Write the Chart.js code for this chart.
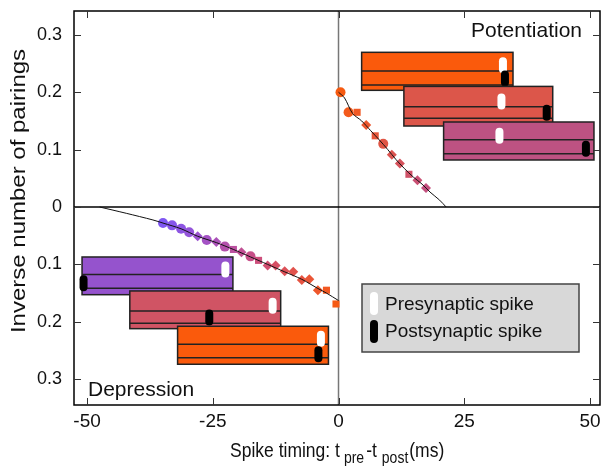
<!DOCTYPE html>
<html>
<head>
<meta charset="utf-8">
<script src="https://cdn.jsdelivr.net/npm/chart.js@4.4.1/dist/chart.umd.min.js"></script>
<style>
html, body { margin: 0; padding: 0; background: #fff; }
#wrap { width: 601px; height: 469px; }
</style>
</head>
<body>
<div id="wrap"><canvas id="stdp"></canvas></div>
<script>
// depression side (pre after post, negative timing)
var depX = [-34.9, -33.1, -31.3, -29.7, -28.0, -26.2, -24.3, -22.6, -20.9, -19.3, -17.5, -15.9, -14.1, -12.5, -10.7, -9.0, -7.3, -5.8, -4.1, -2.4, -0.5];
var depY = [-0.028, -0.032, -0.038, -0.044, -0.051, -0.0575, -0.061, -0.069, -0.074, -0.079, -0.086, -0.093, -0.102, -0.102, -0.112, -0.113, -0.127, -0.126, -0.145, -0.145, -0.169];
// potentiation side
var potX = [0.4, 2.0, 3.7, 5.5, 7.3, 8.9, 10.6, 12.2, 14.0, 15.7, 17.4];
var potY = [0.200, 0.165, 0.165, 0.143, 0.124, 0.110, 0.091, 0.076, 0.057, 0.0465, 0.033];

// fitted curves
var depCurveX = [-47.5, -42.2, -36.9, -34.9, -31.3, -28.0, -24.3, -20.9, -17.5, -14.1, -10.7, -7.3, -4.1, -2.4, 0];
var depCurveY = [0, -0.011, -0.0226, -0.028, -0.038, -0.051, -0.062, -0.074, -0.087, -0.100, -0.113, -0.126, -0.142, -0.150, -0.163];
var potCurveX = [0, 1.2, 2.8, 4.6, 6.4, 8.1, 9.8, 11.4, 13.1, 14.9, 16.6, 18.2, 20.1, 21.4];
var potCurveY = [0.200, 0.190, 0.163, 0.150, 0.133, 0.117, 0.100, 0.083, 0.067, 0.052, 0.040, 0.026, 0.012, 0];

// pairing protocol boxes (ms, inverse pairings)
var boxStart = [4.6, 13.0, 20.9, -51.0, -41.5, -32.0];
var boxEnd = [34.7, 42.6, 50.8, -21.0, -11.5, -2.0];
var boxTop = [0.2695, 0.2101, 0.1481, -0.0871, -0.1463, -0.2078];
var boxBottom = [0.2033, 0.1411, 0.0819, -0.1528, -0.2120, -0.2740];
var boxLine1 = [0.2369, 0.1747, 0.1172, -0.1178, -0.1812, -0.2392];
var boxLine2 = [0.2125, 0.1545, 0.0929, -0.1415, -0.2026, -0.2625];
var preSpikeX = [32.7, 32.4, 32.0, -22.5, -13.1, -3.5];
var preSpikeY = [0.247, 0.184, 0.124, -0.109, -0.172, -0.2297];
var postSpikeX = [33.1, 41.4, 49.2, -50.7, -25.7, -4.0];
var postSpikeY = [0.224, 0.164, 0.1016, -0.133, -0.1925, -0.2565];

var xTickVals = [-50, -25, 0, 25, 50];
var yTickVals = [0.3, 0.2, 0.1, 0, -0.1, -0.2, -0.3];
var yTickLabels = ['0.3', '0.2', '0.1', '0', '0.1', '0.2', '0.3'];

// styles
var FONT = "'Liberation Sans', Arial, sans-serif";
var boxColors = ['#fa5a0c', '#dc564a', '#bd5282', '#9553cd', '#d05464', '#fa5a0c'];
var depColors = ['#7f57f2', '#8656ea', '#8d55e2', '#9454da', '#9c53cf', '#a452c4', '#ab51b8', '#b350ab', '#ba509f', '#c04f94', '#c74f88',
  '#cd4f7c', '#d24f70', '#d65065', '#dc5158', '#e1524c', '#e55341', '#ea5536', '#ee572b', '#f25821', '#f55a14'];
var potColors = ['#f65a10', '#f35a1c', '#f05924', '#eb572e', '#e65538', '#e05544', '#db5450', '#d6535c', '#d05268', '#ca5174', '#c4507f'];
var depShapes = ['circle', 'circle', 'circle', 'circle', 'rectRot', 'circle', 'rectRot', 'circle', 'rect', 'rectRot', 'circle',
  'rect', 'rectRot', 'rectRot', 'rectRot', 'rectRot', 'rectRot', 'rectRot', 'rectRot', 'rect', 'rect'];
var potShapes = ['circle', 'circle', 'rect', 'rectRot', 'rect', 'circle', 'rectRot', 'rectRot', 'rect', 'rectRot', 'rectRot'];

function pts(xs, ys) {
  return xs.map(function (v, i) { return { x: v, y: ys[i] }; });
}

function pill(ctx, cx, cy, w, h, color) {
  var r = w / 2, x = cx - r, y = cy - h / 2;
  ctx.beginPath();
  ctx.moveTo(x, y + r);
  ctx.arc(cx, y + r, r, Math.PI, 0);
  ctx.lineTo(x + w, y + h - r);
  ctx.arc(cx, y + h - r, r, 0, Math.PI);
  ctx.closePath();
  ctx.fillStyle = color;
  ctx.fill();
}

function seg(ctx, x1, y1, x2, y2) {
  ctx.beginPath();
  ctx.moveTo(x1, y1);
  ctx.lineTo(x2, y2);
  ctx.stroke();
}

var decor = {
  id: 'decor',
  beforeDatasetsDraw: function (chart) {
    var ctx = chart.ctx, a = chart.chartArea, x = chart.scales.x, y = chart.scales.y;
    ctx.save();
    ctx.lineWidth = 1.5;
    ctx.strokeStyle = '#777';
    var x0 = x.getPixelForValue(0);
    seg(ctx, x0, a.top, x0, a.bottom);
    ctx.strokeStyle = '#000';
    var y0 = y.getPixelForValue(0);
    seg(ctx, a.left, y0, a.right, y0);
    ctx.restore();
  },
  afterDatasetsDraw: function (chart) {
    var ctx = chart.ctx, a = chart.chartArea, x = chart.scales.x, y = chart.scales.y;
    ctx.save();
    // boxes with spikes
    for (var i = 0; i < boxStart.length; i++) {
      var l = x.getPixelForValue(boxStart[i]), r = x.getPixelForValue(boxEnd[i]);
      var t = y.getPixelForValue(boxTop[i]), b = y.getPixelForValue(boxBottom[i]);
      ctx.fillStyle = boxColors[i];
      ctx.fillRect(l, t, r - l, b - t);
      ctx.strokeStyle = '#222';
      ctx.lineWidth = 1.5;
      ctx.strokeRect(l, t, r - l, b - t);
      seg(ctx, l, y.getPixelForValue(boxLine1[i]), r, y.getPixelForValue(boxLine1[i]));
      seg(ctx, l, y.getPixelForValue(boxLine2[i]), r, y.getPixelForValue(boxLine2[i]));
      pill(ctx, x.getPixelForValue(preSpikeX[i]), y.getPixelForValue(preSpikeY[i]), 8, 16, '#fff');
      pill(ctx, x.getPixelForValue(postSpikeX[i]), y.getPixelForValue(postSpikeY[i]), 8, 16, '#000');
    }

    // frame + inward ticks
    ctx.strokeStyle = '#000';
    ctx.lineWidth = 1.5;
    ctx.strokeRect(a.left, a.top, a.right - a.left, a.bottom - a.top);
    ctx.strokeStyle = '#333';
    ctx.lineWidth = 1;
    xTickVals.forEach(function (v) {
      var px = Math.round(x.getPixelForValue(v)) + 0.5;
      seg(ctx, px, a.bottom, px, a.bottom - 7);
      seg(ctx, px, a.top, px, a.top + 7);
    });
    yTickVals.forEach(function (v) {
      var py = Math.round(y.getPixelForValue(v)) + 0.5;
      seg(ctx, a.left, py, a.left + 7, py);
      seg(ctx, a.right, py, a.right - 7, py);
    });

    // legend
    ctx.fillStyle = '#d8d8d8';
    ctx.fillRect(362, 284, 217, 68);
    ctx.strokeStyle = '#444';
    ctx.lineWidth = 1.5;
    ctx.strokeRect(362, 284, 217, 68);
    pill(ctx, 374, 303.5, 8, 23, '#fff');
    pill(ctx, 374, 331.5, 8, 23, '#000');
    ctx.fillStyle = '#111';
    ctx.font = '19px ' + FONT;
    ctx.textBaseline = 'middle';
    ctx.textAlign = 'left';
    ctx.fillText('Presynaptic spike', 385, 305);
    ctx.fillText('Postsynaptic spike', 385, 332);

    // corner labels
    ctx.font = '21px ' + FONT;
    ctx.textBaseline = 'alphabetic';
    ctx.textAlign = 'right';
    ctx.fillText('Potentiation', a.right - 18, a.top + 26);
    ctx.textAlign = 'left';
    ctx.fillText('Depression', a.left + 14, a.bottom - 9);
    ctx.restore();
  },
  afterDraw: function (chart) {
    var ctx = chart.ctx;
    ctx.save();
    ctx.fillStyle = '#111';
    // y title, stretched along its length like the original
    ctx.translate(19, 191);
    ctx.rotate(-Math.PI / 2);
    ctx.scale(1.2, 1);
    ctx.font = '20px ' + FONT;
    ctx.textAlign = 'center';
    ctx.textBaseline = 'middle';
    ctx.fillText('Inverse number of pairings', 0, 0);
    ctx.restore();

    // x title with subscripts
    ctx.save();
    ctx.fillStyle = '#111';
    ctx.translate(0, 457);
    ctx.scale(1, 1.2);
    ctx.textAlign = 'left';
    ctx.textBaseline = 'alphabetic';
    var parts = [
      ['Spike timing: t', 17.5, 0, 0],
      ['pre', 14, 5, 4],
      ['-t', 17.5, 0, 2],
      ['post', 14, 5, 5],
      ['(ms)', 17.5, 0, 1]
    ];
    var cx = 230;
    parts.forEach(function (p) {
      cx += p[3];
      ctx.font = p[1] + 'px ' + FONT;
      ctx.fillText(p[0], cx, p[2]);
      cx += ctx.measureText(p[0]).width;
    });
    ctx.restore();
  }
};

var ctx = document.getElementById('stdp').getContext('2d');
var stdpChart = new Chart(ctx, {
  type: 'scatter',
  data: {
    datasets: [
      {
        type: 'line', data: pts(depCurveX, depCurveY), borderColor: '#111', borderWidth: 1,
        pointRadius: 0, tension: 0.3, fill: false
      },
      {
        type: 'line', data: pts(potCurveX, potCurveY), borderColor: '#111', borderWidth: 1,
        pointRadius: 0, tension: 0.3, fill: false
      },
      {
        data: pts(depX, depY), pointBackgroundColor: depColors, pointBorderWidth: 0,
        pointStyle: depShapes, pointRadius: 5
      },
      {
        data: pts(potX, potY), pointBackgroundColor: potColors, pointBorderWidth: 0,
        pointStyle: potShapes, pointRadius: 5
      }
    ]
  },
  options: {
    responsive: true,
    maintainAspectRatio: false,
    animation: false,
    layout: { padding: { top: 11, right: 1, left: 0, bottom: 0 }, autoPadding: false },
    plugins: { legend: { display: false }, tooltip: { enabled: false } },
    scales: {
      x: {
        type: 'linear', min: -52.6, max: 52,
        afterBuildTicks: function (s) { s.ticks = xTickVals.map(function (v) { return { value: v }; }); },
        ticks: { font: { family: FONT, size: 19 }, color: '#111', padding: 5, maxRotation: 0, autoSkip: false },
        grid: { display: false, drawTicks: false },
        border: { display: false },
        afterFit: function (s) { s.height = 64; s.paddingLeft = 0; s.paddingRight = 0; }
      },
      y: {
        type: 'linear', min: -0.345, max: 0.3415,
        afterBuildTicks: function (s) { s.ticks = yTickVals.map(function (v) { return { value: v }; }); },
        ticks: {
          font: { family: FONT, size: 18 }, color: '#111', padding: 12, autoSkip: false,
          callback: function (v, i) { return yTickLabels[i]; }
        },
        grid: { display: false, drawTicks: false },
        border: { display: false },
        afterFit: function (s) { s.width = 74; s.paddingTop = 0; s.paddingBottom = 0; }
      }
    }
  },
  plugins: [decor]
});
</script>
</body>
</html>
